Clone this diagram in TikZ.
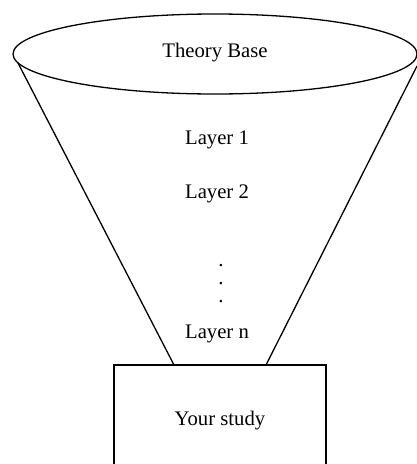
\documentclass[tikz,border=0pt]{standalone}
\usepackage{fontspec}
\setmainfont{Liberation Serif}
\usepackage{tikz}
\usetikzlibrary{shapes.geometric,positioning}

\begin{document}
\begin{tikzpicture}[x=1pt,y=-1pt,
  rim/.style={draw,ellipse,line width=1.3pt,inner sep=0pt,outer sep=0pt,
              minimum width=404pt,minimum height=80pt},
  study/.style={draw,rectangle,line width=1.3pt,inner sep=0pt,outer sep=0pt,
                minimum width=212pt,minimum height=112pt},
  wall/.style={line width=1.3pt},
  lbl/.style={font=\fontsize{20.7}{24}\selectfont,inner sep=0pt}
]
\useasboundingbox (0,0) rectangle (417,464);
% Top of the funnel
\node[rim] (base) at (215,54) {};
\node[lbl] (tb) at (215,53) {Theory Base};
% Box at the narrow end, cut off by the page edge
\node[study] (box) at (220,421) {};
\node[lbl] (ys) at (220,421) {Your study};
% Layers down the funnel
\node[lbl] (l1) at (217,140) {Layer 1};
\node[lbl] (l2) at (217,194) {Layer 2};
\node[lbl,align=center,font=\fontsize{20.7}{18}\selectfont] (dots) at (221,284) {.\\.\\.};
\node[lbl] (ln) at (217,334) {Layer n};

% Funnel walls from the rim to the box
\coordinate (tl) at (18,63);
\coordinate (tr) at (417,66);
\coordinate (bl) at (174,365);
\coordinate (br) at (266,365);
\draw[wall] (tl) -- (bl);
\draw[wall] (tr) -- (br);
\end{tikzpicture}
\end{document}
